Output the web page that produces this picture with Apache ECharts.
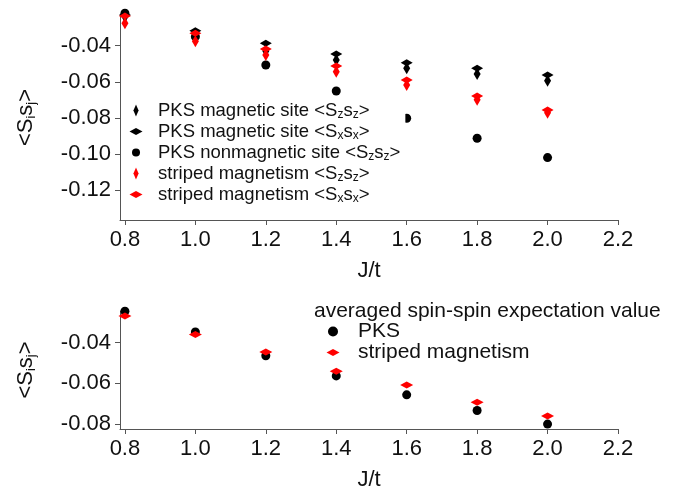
<!DOCTYPE html>
<html>
<head>
<meta charset="utf-8">
<script src="https://cdn.jsdelivr.net/npm/echarts@6/dist/echarts.min.js"></script>
<style>
  html, body { margin: 0; padding: 0; background: #fff; }
  #chart { width: 681px; height: 492px; }
</style>
</head>
<body>
<div id="chart"></div>
<script>
// J/t values
const jt = [0.8, 1.0, 1.2, 1.4, 1.6, 1.8, 2.0];

// top panel
const pksMagSz = [-0.024, -0.034, -0.043, -0.048, -0.0525, -0.0557, -0.0594];
const pksMagSx = [-0.023, -0.0317, -0.0387, -0.0446, -0.0494, -0.0525, -0.0562];
const pksNonmagSz = [-0.022, -0.035, -0.0507, -0.0651, -0.0802, -0.0913, -0.102];
const stripedSz = [-0.0276, -0.0375, -0.0452, -0.0544, -0.0618, -0.070, -0.0771];
const stripedSx = [-0.0235, -0.0331, -0.0418, -0.0512, -0.059, -0.0679, -0.0756];

// bottom panel (averaged)
const avgPks = [-0.0245, -0.0347, -0.0464, -0.0563, -0.0656, -0.0733, -0.080];
const avgStriped = [-0.0268, -0.036, -0.0445, -0.054, -0.0608, -0.0693, -0.076];

// ticks
const xTicks = [0.8, 1.0, 1.2, 1.4, 1.6, 1.8, 2.0, 2.2];
const topYTicks = [-0.12, -0.10, -0.08, -0.06, -0.04];
const bottomYTicks = [-0.08, -0.06, -0.04];

const FONT = 'Liberation Sans, Arial, sans-serif';
const RED = '#ff0000';

// legend icons: shape drawn at x = c inside a w x 14 box (the box keeps the spacing)
const vDia = (w, c) => `path://M0,0M${c},1L${c + 2.6},7L${c},13L${c - 2.6},7ZM${w},14`;
const hDia = (w, c) => `path://M0,0M${c - 6.5},7L${c},3.6L${c + 6.5},7L${c},10.4ZM${w},14`;
const dot = (w, c, r) => `path://M0,0M${c - r},7A${r},${r} 0 1 1 ${c + r},7A${r},${r} 0 1 1 ${c - r},7ZM${w},14`;

const pairs = (ys) => jt.map((x, i) => [x, ys[i]]);

const subRich = {
  sub: { fontSize: 12, fontFamily: FONT, color: '#111', verticalAlign: 'bottom', lineHeight: 12, padding: [5, 0, 0, 0] }
};

function richName(name) {
  return name.replace(/<S(\w)s(\w)>/, '<S{sub|$1}s{sub|$2}>');
}

function xAxis(gridIndex) {
  return {
    type: 'value', gridIndex: gridIndex, min: 0.786, max: 2.2,
    name: 'J/t', nameLocation: 'middle', nameGap: 40,
    nameTextStyle: { fontSize: 22, fontFamily: FONT, color: '#111' },
    axisLine: { show: true, onZero: false, lineStyle: { color: '#555', width: 1 } },
    axisTick: { show: true, length: 5, customValues: xTicks, lineStyle: { color: '#555' } },
    axisLabel: { customValues: xTicks, fontSize: 22, fontFamily: FONT, color: '#111', margin: 9,
      formatter: (v) => v.toFixed(1) },
    splitLine: { show: false }
  };
}

function yAxis(gridIndex, min, max, ticks) {
  return {
    type: 'value', gridIndex: gridIndex, min: min, max: max,
    name: '<S{sub|i}s{sub|j}>', nameLocation: 'middle', nameGap: 82, nameRotate: 90,
    nameTextStyle: { fontSize: 22, fontFamily: FONT, color: '#111', lineHeight: 24,
      rich: { sub: { fontSize: 13, fontFamily: FONT, color: '#111', verticalAlign: 'bottom', lineHeight: 13, padding: [5, 0, 0, 0] } } },
    axisLine: { show: true, onZero: false, lineStyle: { color: '#555', width: 1 } },
    axisTick: { show: true, length: 5, customValues: ticks, lineStyle: { color: '#555' } },
    axisLabel: { customValues: ticks, fontSize: 22, fontFamily: FONT, color: '#111', margin: 9,
      formatter: (v) => v.toFixed(2) },
    splitLine: { show: false }
  };
}

function scatter(name, ys, idx, symbol, size, color) {
  return {
    name: name, type: 'scatter', xAxisIndex: idx, yAxisIndex: idx,
    data: pairs(ys), symbol: symbol, symbolSize: size,
    itemStyle: { color: color, opacity: 1 }, clip: false
  };
}

const chart = echarts.init(document.getElementById('chart'), null, { renderer: 'canvas' });

chart.setOption({
  animation: false,
  backgroundColor: '#fff',
  title: {
    text: 'averaged spin-spin expectation value',
    left: 314, top: 300, padding: 0,
    textStyle: { fontSize: 21, fontWeight: 'normal', fontFamily: FONT, color: '#111', lineHeight: 22 }
  },
  grid: [
    { left: 120, top: 15, width: 498, height: 205 },
    { left: 120, top: 311, width: 498, height: 121 }
  ],
  xAxis: [xAxis(0), xAxis(1)],
  yAxis: [
    yAxis(0, -0.1366, -0.023, topYTicks),
    yAxis(1, -0.0824, -0.0244, bottomYTicks)
  ],
  legend: [
    {
      orient: 'vertical', left: 121, top: 98, padding: [2, 5, 2, 0],
      backgroundColor: '#fff', itemWidth: 32, itemHeight: 14, itemGap: 0,
      selectedMode: false,
      data: [
        { name: 'PKS magnetic site <Szsz>', icon: vDia(32, 15) },
        { name: 'PKS magnetic site <Sxsx>', icon: hDia(32, 15) },
        { name: 'PKS nonmagnetic site <Szsz>', icon: dot(32, 15, 4) },
        { name: 'striped magnetism <Szsz>', icon: vDia(32, 15) },
        { name: 'striped magnetism <Sxsx>', icon: hDia(32, 15) }
      ],
      formatter: richName,
      textStyle: { fontSize: 18.5, fontFamily: FONT, color: '#111', lineHeight: 21, rich: subRich }
    },
    {
      orient: 'vertical', left: 313, top: 321, padding: 0,
      itemWidth: 40, itemHeight: 14, itemGap: 0, selectedMode: false,
      data: [
        { name: 'PKS', icon: dot(40, 20, 5) },
        { name: 'striped magnetism', icon: hDia(40, 20) }
      ],
      textStyle: { fontSize: 21, fontFamily: FONT, color: '#111', lineHeight: 21 }
    }
  ],
  series: [
    scatter('PKS magnetic site <Szsz>', pksMagSz, 0, 'diamond', [7, 12], '#000'),
    scatter('PKS magnetic site <Sxsx>', pksMagSx, 0, 'diamond', [12, 7], '#000'),
    scatter('PKS nonmagnetic site <Szsz>', pksNonmagSz, 0, 'circle', 9, '#000'),
    scatter('striped magnetism <Szsz>', stripedSz, 0, 'diamond', [7, 12], RED),
    scatter('striped magnetism <Sxsx>', stripedSx, 0, 'diamond', [12, 7], RED),
    scatter('PKS', avgPks, 1, 'circle', 9, '#000'),
    scatter('striped magnetism', avgStriped, 1, 'diamond', [13, 7], RED)
  ]
});
</script>
</body>
</html>
